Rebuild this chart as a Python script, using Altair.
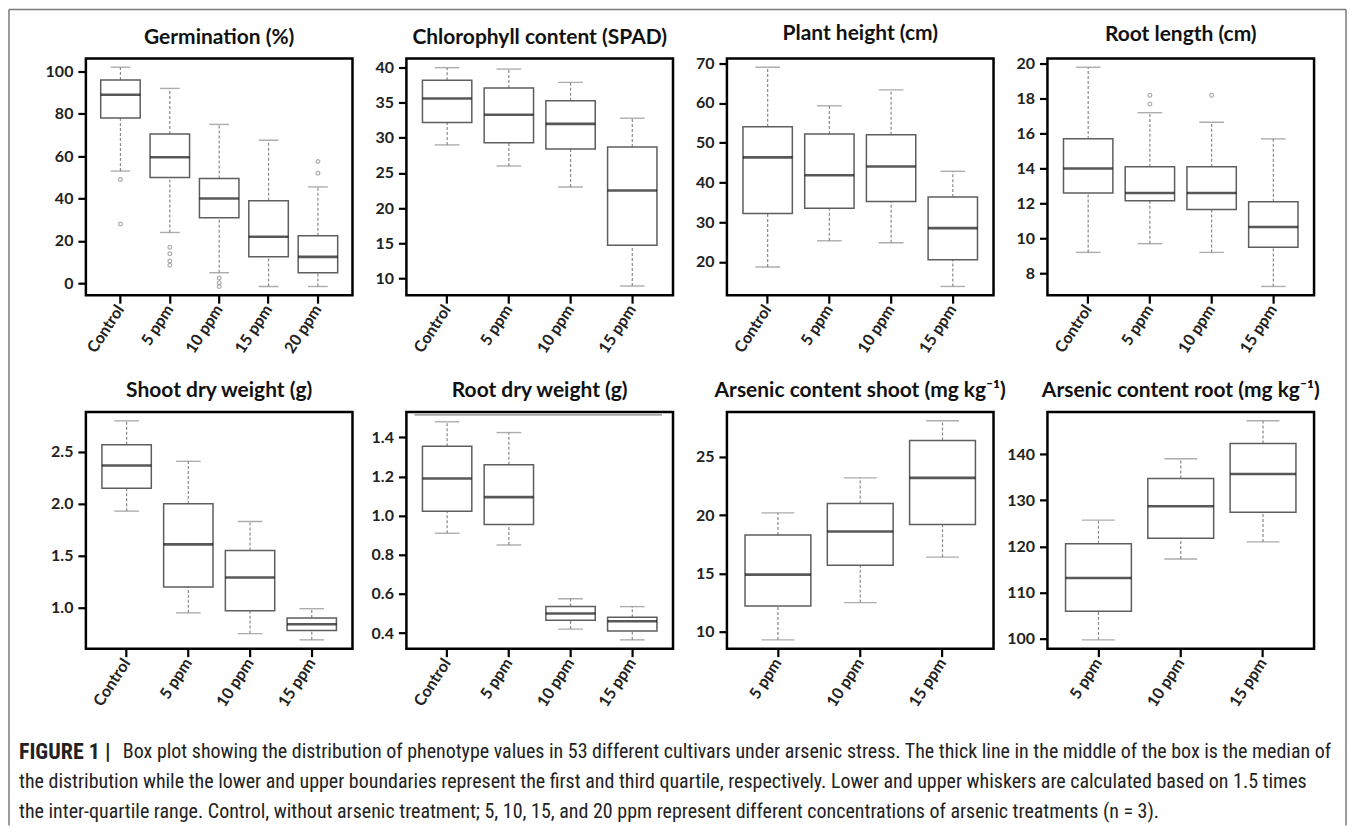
import altair as alt
import pandas as pd

FONT = "Lato"
CAP_FONT = "Liberation Sans Narrow, Roboto Condensed, Liberation Sans"
W, H = 267, 237
PI = 0.2

# ---------------- data ----------------
germ_cats = ["Control", "5 ppm", "10 ppm", "15 ppm", "20 ppm"]
germ_lower = [53, 24, 5, -1.5, -1.5]
germ_q1 = [78, 50, 31, 12.5, 5]
germ_median = [89, 59.5, 40, 22, 12.5]
germ_q3 = [96, 70.5, 49.5, 39, 22.5]
germ_upper = [102, 92, 75, 67.5, 45.5]
germ_out_cat = ["Control", "Control", "5 ppm", "5 ppm", "5 ppm", "5 ppm",
                "10 ppm", "10 ppm", "10 ppm", "20 ppm", "20 ppm"]
germ_out_val = [49, 28, 17, 14, 10.5, 8.5, 2.5, 0.3, -1.5, 57.5, 52]
germ_domain = [-5.6, 106.1]
germ_ticks = [0, 20, 40, 60, 80, 100]

four_cats = ["Control", "5 ppm", "10 ppm", "15 ppm"]
three_cats = ["5 ppm", "10 ppm", "15 ppm"]

chl_lower = [29, 26, 23, 8.9]
chl_q1 = [32.2, 29.3, 28.4, 14.7]
chl_median = [35.6, 33.3, 32, 22.5]
chl_q3 = [38.2, 37.1, 35.3, 28.7]
chl_upper = [40.0, 39.8, 37.9, 32.8]
chl_domain = [7.6, 41.3]
chl_ticks = [10, 15, 20, 25, 30, 35, 40]

ph_lower = [18.7, 25.3, 24.8, 13.8]
ph_q1 = [32.2, 33.5, 35.2, 20.5]
ph_median = [46.3, 41.8, 44, 28.5]
ph_q3 = [54, 52.2, 52, 36.3]
ph_upper = [69, 59.3, 63.3, 42.8]
ph_domain = [11.6, 71.2]
ph_ticks = [20, 30, 40, 50, 60, 70]

rl_lower = [9.2, 9.7, 9.2, 7.25]
rl_q1 = [12.6, 12.15, 11.65, 9.5]
rl_median = [14.0, 12.6, 12.6, 10.65]
rl_q3 = [15.7, 14.1, 14.1, 12.1]
rl_upper = [19.8, 17.2, 16.65, 15.7]
rl_out_cat = ["5 ppm", "5 ppm", "10 ppm"]
rl_out_val = [18.2, 17.7, 18.2]
rl_domain = [6.75, 20.3]
rl_ticks = [8, 10, 12, 14, 16, 18, 20]

sdw_lower = [1.93, 0.95, 0.75, 0.69]
sdw_q1 = [2.15, 1.2, 0.97, 0.78]
sdw_median = [2.37, 1.61, 1.29, 0.84]
sdw_q3 = [2.57, 2.0, 1.55, 0.9]
sdw_upper = [2.80, 2.41, 1.83, 0.99]
sdw_domain = [0.605, 2.885]
sdw_ticks = [1.0, 1.5, 2.0, 2.5]

rdw_lower = [0.91, 0.85, 0.42, 0.365]
rdw_q1 = [1.022, 0.955, 0.465, 0.41]
rdw_median = [1.19, 1.095, 0.50, 0.46]
rdw_q3 = [1.355, 1.26, 0.535, 0.48]
rdw_upper = [1.48, 1.425, 0.575, 0.535]
rdw_domain = [0.32, 1.53]
rdw_ticks = [0.4, 0.6, 0.8, 1.0, 1.2, 1.4]
rdw_ref_line = 1.515

acs_lower = [9.3, 12.5, 16.4]
acs_q1 = [12.2, 15.7, 19.2]
acs_median = [14.9, 18.6, 23.2]
acs_q3 = [18.3, 21.0, 26.4]
acs_upper = [20.2, 23.2, 28.1]
acs_domain = [8.55, 28.85]
acs_ticks = [10, 15, 20, 25]

acr_lower = [99.8, 117.3, 121]
acr_q1 = [106, 121.8, 127.4]
acr_median = [113.2, 128.7, 135.7]
acr_q3 = [120.6, 134.7, 142.3]
acr_upper = [125.7, 139, 147.2]
acr_domain = [97.9, 149.1]
acr_ticks = [100, 110, 120, 130, 140]

caption_bold = "FIGURE 1 |"
caption_lines = [
    "Box plot showing the distribution of phenotype values in 53 different cultivars under arsenic stress. The thick line in the middle of the box is the median of",
    "the distribution while the lower and upper boundaries represent the first and third quartile, respectively. Lower and upper whiskers are calculated based on 1.5 times",
    "the inter-quartile range. Control, without arsenic treatment; 5, 10, 15, and 20 ppm represent different concentrations of arsenic treatments (n = 3).",
]

# ---------------- styles ----------------
BOX_COL = "#5e5e5e"
WHISK_COL = "#8a8a8a"
OUT_COL = "#8a8a8a"
LBL = dict(labelFont=FONT, labelFontSize=16, labelFontWeight="bold", labelColor="#222",
           tickSize=8, tickWidth=2.2, tickColor="black", domain=False, grid=False)


def panel(title, cats, lower, q1, med, q3, upper, ydom, yvals, yfmt,
          out_cat=None, out_val=None, ref_line=None):
    n = len(cats)
    po = 0.04 * n + 0.1          # R-style 4% axis expansion around the boxes
    step = W / (n - PI + 2 * po)
    bw = step * (1 - PI)
    df = pd.DataFrame({"cat": cats, "lower": lower, "q1": q1, "median": med,
                       "q3": q3, "upper": upper})
    xaxis = alt.Axis(title=None, labelAngle=-57, labelAlign="right", labelBaseline="middle",
                     labelPadding=3, **LBL)
    x = alt.X("cat:N", sort=cats, title=None,
              scale=alt.Scale(domain=cats, paddingInner=PI, paddingOuter=po), axis=xaxis)
    ys = alt.Scale(domain=ydom, nice=False, zero=False)
    ya = alt.Axis(title=None, values=yvals, format=yfmt, labelPadding=5, **LBL)

    def Y(f):
        return alt.Y(f"{f}:Q", scale=ys, axis=ya, title=None)

    base = alt.Chart(df).encode(x=x)
    layers = [
        base.mark_rule(color=WHISK_COL, strokeWidth=1.2, strokeDash=[3, 2]).encode(y=Y("q3"), y2="upper"),
        base.mark_rule(color=WHISK_COL, strokeWidth=1.2, strokeDash=[3, 2]).encode(y=Y("lower"), y2="q1"),
        base.mark_tick(color=WHISK_COL, thickness=1.4, size=bw * 0.5).encode(y=Y("upper")),
        base.mark_tick(color=WHISK_COL, thickness=1.4, size=bw * 0.5).encode(y=Y("lower")),
        base.mark_bar(fill="white", stroke=BOX_COL, strokeWidth=1.5).encode(y=Y("q1"), y2="q3"),
        base.mark_tick(color="#111", thickness=2.6, size=bw).encode(y=Y("median")),
    ]
    if out_cat:
        odf = pd.DataFrame({"cat": out_cat, "val": out_val})
        layers.append(alt.Chart(odf).mark_point(shape="circle", filled=False, size=14,
                                                color=OUT_COL, strokeWidth=1.2)
                      .encode(x=x, y=Y("val")))
    if ref_line is not None:
        rdf = pd.DataFrame({"v": [ref_line]})
        layers.append(alt.Chart(rdf).mark_rule(color="#a8a8a8", strokeWidth=1.8).encode(
            y=Y("v"), x=alt.value(8), x2=alt.value(W - 11)))
    return alt.layer(*layers).properties(
        width=W, height=H,
        title=alt.TitleParams(text=title, font=FONT, fontSize=21, fontWeight="bold",
                              color="#111", offset=11, anchor="middle"))


p1 = panel("Germination (%)", germ_cats, germ_lower, germ_q1, germ_median, germ_q3, germ_upper,
           germ_domain, germ_ticks, "d", germ_out_cat, germ_out_val)
p2 = panel("Chlorophyll content (SPAD)", four_cats, chl_lower, chl_q1, chl_median, chl_q3, chl_upper,
           chl_domain, chl_ticks, "d")
p3 = panel("Plant height (cm)", four_cats, ph_lower, ph_q1, ph_median, ph_q3, ph_upper,
           ph_domain, ph_ticks, "d")
p4 = panel("Root length (cm)", four_cats, rl_lower, rl_q1, rl_median, rl_q3, rl_upper,
           rl_domain, rl_ticks, "d", rl_out_cat, rl_out_val)
p5 = panel("Shoot dry weight (g)", four_cats, sdw_lower, sdw_q1, sdw_median, sdw_q3, sdw_upper,
           sdw_domain, sdw_ticks, ".1f")
p6 = panel("Root dry weight (g)", four_cats, rdw_lower, rdw_q1, rdw_median, rdw_q3, rdw_upper,
           rdw_domain, rdw_ticks, ".1f", ref_line=rdw_ref_line)
p7 = panel("Arsenic content shoot (mg kg\u207b\u00b9)", three_cats, acs_lower, acs_q1, acs_median,
           acs_q3, acs_upper, acs_domain, acs_ticks, "d")
p8 = panel("Arsenic content root  (mg kg\u207b\u00b9)", three_cats, acr_lower, acr_q1, acr_median,
           acr_q3, acr_upper, acr_domain, acr_ticks, "d")

# ---------------- caption + figure border (third grid row, column 1) ----------------
CAP_FS = 20
BOLD_W = 104
CAP_X = -67          # caption left edge relative to the first column
cap_df = pd.DataFrame({"line": [0, 1, 2], "text": caption_lines})
bold_df = pd.DataFrame({"line": [0], "text": [caption_bold]})
ycap = alt.Y("line:O", axis=None,
             scale=alt.Scale(domain=[0, 1, 2], range=[-28, 62], paddingInner=0, paddingOuter=0))
txt = dict(align="left", baseline="middle", font=CAP_FONT, fontSize=CAP_FS, color="#222")
cap_first = alt.Chart(cap_df).transform_filter("datum.line == 0").mark_text(**txt).encode(
    y=ycap, x=alt.value(CAP_X + BOLD_W), text="text:N")
cap_rest = alt.Chart(cap_df).transform_filter("datum.line > 0").mark_text(**txt).encode(
    y=ycap, x=alt.value(CAP_X), text="text:N")
bold_txt = dict(txt, fontSize=22)
cap_bold = alt.Chart(bold_df).mark_text(fontWeight="bold", **bold_txt).encode(
    y=ycap, x=alt.value(CAP_X), text="text:N")

border_df = pd.DataFrame({"edge": ["top", "left", "right"]})
b = alt.Chart(border_df)
BORDER = dict(color="#7a7a7a", strokeWidth=1.5)
border_top = b.transform_filter("datum.edge == 'top'").mark_rule(**BORDER).encode(
    x=alt.value(-77), x2=alt.value(1262), y=alt.value(-757))
border_left = b.transform_filter("datum.edge == 'left'").mark_rule(**BORDER).encode(
    x=alt.value(-77), y=alt.value(-757), y2=alt.value(60))
border_right = b.transform_filter("datum.edge == 'right'").mark_rule(**BORDER).encode(
    x=alt.value(1262), y=alt.value(-757), y2=alt.value(60))

caption = alt.layer(cap_first, cap_rest, cap_bold, border_top, border_left, border_right).properties(
    width=W, height=40, view=alt.ViewBackground(strokeWidth=0))

chart = alt.concat(p1, p2, p3, p4, p5, p6, p7, p8, caption, columns=4,
                   spacing={"row": 117, "column": 54}, bounds="flush").properties(
    padding=0, background="white"
).configure_view(stroke="black", strokeWidth=2.5)

chart.save("out.html", embed_options={"renderer": "svg", "actions": False})
